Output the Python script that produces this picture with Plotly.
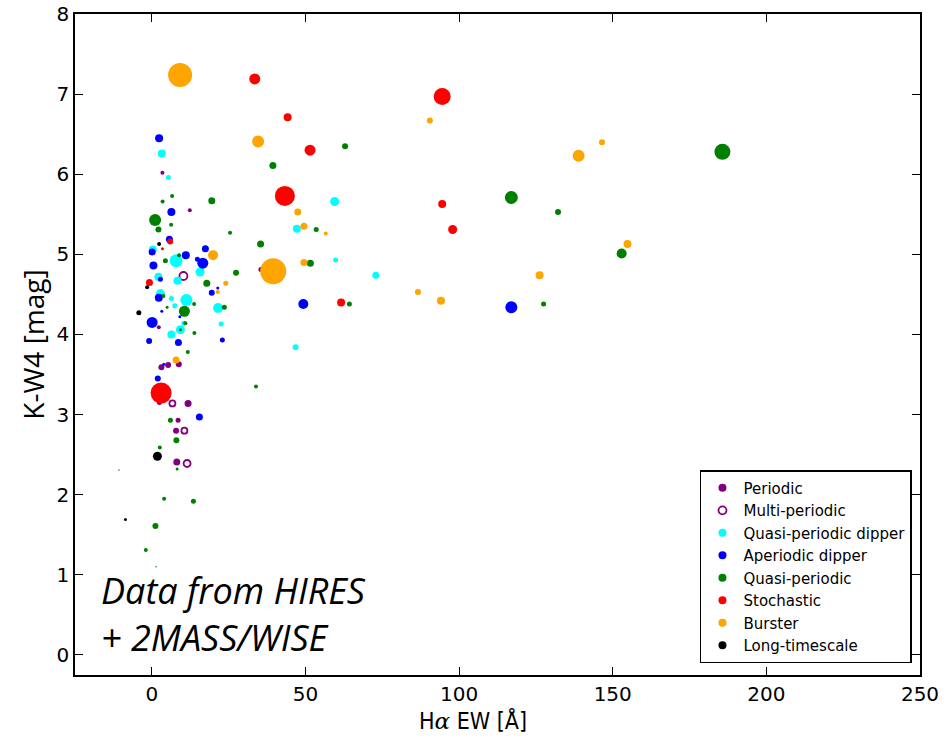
import plotly.graph_objects as go

# H-alpha equivalent width [Angstrom], K-W4 colour [mag] and marker size per variability class
periodic_x = [3.45, 12.36, 2.28, 3.12, 5.30, 8.78, 2.47, 11.80, 8.55, 7.90, 8.13, 35.5]
periodic_y = [6.02, 5.55, 4.09, 3.59, 3.62, 3.63, 3.15, 3.14, 2.93, 2.80, 2.41, 4.81]
periodic_s = [4, 4, 4, 6, 6, 6, 5, 7, 5, 6, 7, 5]

multi_x = [10.28, 6.70, 10.60, 11.48]
multi_y = [4.73, 3.14, 2.80, 2.39]
multi_s = [8, 6, 6, 7]

qpd_x = [3.25, 5.40, 0.33, 7.90, 2.15, 15.71, 8.33, 2.80, 6.37, 11.25, 7.48, 21.56, 10.41,
         9.30, 6.37, 22.54, 59.5, 47.2, 59.8, 72.9, 46.8]
qpd_y = [6.26, 5.96, 5.06, 4.92, 4.72, 4.78, 4.67, 4.51, 4.45, 4.43, 4.36, 4.33, 4.14,
         4.06, 4.00, 4.13, 5.66, 5.32, 4.93, 4.74, 3.84]
qpd_s = [8, 5, 8, 13, 8, 9, 8, 9, 5, 12, 5, 10, 5, 9, 8, 5, 9, 8, 5, 7, 6]

aper_x = [2.37, 6.37, 5.72, 0.10, 11.06, 17.43, 14.83, 16.59, 0.52, 2.80, 21.46, 2.28, 19.51,
          9.11, 3.25, 0.10, -0.88, 8.65, 22.96, 3.90, 1.95, 15.48, 49.3, 117.0]
aper_y = [6.45, 5.53, 5.19, 5.03, 4.99, 5.07, 4.94, 4.89, 4.86, 4.69, 4.58, 4.46, 4.52,
          4.22, 4.29, 4.15, 3.92, 3.90, 3.93, 3.63, 3.45, 2.97, 4.38, 4.34]
aper_s = [8, 8, 7, 7, 8, 7, 5, 11, 8, 5, 3, 8, 6, 3, 3, 11, 6, 7, 5, 3, 6, 7, 10, 12]

qp_x = [6.60, 3.51, 19.51, 1.07, 2.15, 6.28, 25.46, 4.42, 8.88, 27.41, 17.89, 3.77, 4.98,
        13.76, 10.60, 23.61, 10.93, 9.30, 13.85, 11.71, 6.05, 8.00, 2.60, 8.23, 4.00, 13.53,
        1.17, -1.95, 62.9, 39.4, 53.5, 35.4, 51.6, 64.3, 33.9, 185.7, 117.0, 132.2, 127.5,
        152.9, -10.7, 1.4]
qp_y = [5.73, 5.66, 5.67, 5.43, 5.31, 5.37, 5.27, 4.92, 4.99, 4.77, 4.64, 4.48, 4.34,
        4.38, 4.29, 4.34, 4.14, 4.06, 4.02, 3.78, 2.93, 2.68, 2.59, 2.32, 1.95, 1.92,
        1.61, 1.31, 6.35, 6.11, 5.31, 5.13, 4.89, 4.38, 3.35, 6.28, 5.71, 5.53, 4.38,
        5.01, 2.31, 1.10]
qp_s = [4, 4, 7, 12, 6, 4, 4, 5, 4, 6, 7, 4, 3, 4, 11, 5, 4, 3, 4, 4, 5, 6, 4, 3, 4, 5,
        6, 4, 6, 7, 5, 7, 7, 5, 4, 16, 13, 6, 5, 10, 1.5, 1.5]

stoch_x = [5.95, 3.45, -0.78, 3.02, 33.5, 94.5, 44.2, 51.5, 43.3, 94.5, 97.9, 61.6]
stoch_y = [5.16, 5.07, 4.65, 3.27, 7.19, 6.97, 6.71, 6.30, 5.73, 5.63, 5.31, 4.40]
stoch_s = [6, 3, 7, 21, 11, 17, 8, 11, 20, 8, 9, 8]

burst_x = [19.93, 24.07, 21.46, 7.90, 9.2, 90.5, 34.6, 47.5, 49.5, 56.6, 39.5, 49.5, 86.6,
           94.1, 146.5, 138.9, 126.2, 154.8]
burst_y = [4.99, 4.64, 4.53, 3.68, 7.24, 6.67, 6.41, 5.53, 5.35, 5.26, 4.79, 4.90, 4.53,
           4.42, 6.40, 6.23, 4.74, 5.13]
burst_s = [10, 5, 4, 7, 24, 6, 12, 7, 7, 4, 26, 7, 6, 8, 6, 12, 8, 8]

long_x = [2.37, -1.53, -4.23, 1.82, -8.59]
long_y = [5.13, 4.59, 4.27, 2.48, 1.69]
long_s = [4, 4, 5, 9, 3]

classes = [
    ("Periodic", periodic_x, periodic_y, periodic_s, "#800080", False),
    ("Multi-periodic", multi_x, multi_y, multi_s, "#800080", True),
    ("Quasi-periodic dipper", qpd_x, qpd_y, qpd_s, "#00FFFF", False),
    ("Aperiodic dipper", aper_x, aper_y, aper_s, "#0000FF", False),
    ("Quasi-periodic", qp_x, qp_y, qp_s, "#008000", False),
    ("Stochastic", stoch_x, stoch_y, stoch_s, "#FF0000", False),
    ("Burster", burst_x, burst_y, burst_s, "#FFA500", False),
    ("Long-timescale", long_x, long_y, long_s, "#000000", False),
]


def marker_style(col, hollow, size):
    if hollow:
        return dict(symbol="circle-open", size=size, color=col, opacity=1,
                    line=dict(color=col, width=1.8))
    return dict(symbol="circle", size=size, color=col, opacity=1, line=dict(width=0))


fig = go.Figure()

for name, xs, ys, ss, col, hollow in classes:
    fig.add_trace(go.Scatter(x=xs, y=ys, mode="markers", marker=marker_style(col, hollow, ss),
                             name=name, legendgroup=name, showlegend=False,
                             hoverinfo="x+y+name"))

# legend entries with a fixed marker size
for name, xs, ys, ss, col, hollow in classes:
    fig.add_trace(go.Scatter(x=[None], y=[None], mode="markers",
                             marker=marker_style(col, hollow, 8),
                             name=name, legendgroup=name, showlegend=True))

axis_common = dict(
    showline=True, linecolor="black", linewidth=1.5, mirror="ticks",
    ticks="inside", ticklen=8, tickwidth=1, tickcolor="black",
    showgrid=False, zeroline=False, automargin=False,
    tickfont=dict(family="DejaVu Sans", size=20, color="black"),
)

fig.update_layout(
    width=951, height=743,
    margin=dict(l=75, r=31, t=14, b=68),
    paper_bgcolor="white", plot_bgcolor="white",
    xaxis=dict(range=[-25, 250], tickvals=[0, 50, 100, 150, 200, 250], **axis_common),
    yaxis=dict(range=[-0.25, 8], tickvals=[0, 1, 2, 3, 4, 5, 6, 7, 8],
               title=dict(text="K-W4 [mag]",
                          font=dict(family="Open Sans", size=28, color="black"), standoff=4),
               **axis_common),
    legend=dict(x=0.9905, y=0.018, xanchor="right", yanchor="bottom",
                bgcolor="white", bordercolor="black", borderwidth=1.5,
                font=dict(family="DejaVu Sans", size=15, color="black"),
                itemwidth=32, tracegroupgap=0,
                itemclick=False, itemdoubleclick=False),
    showlegend=True,
    annotations=[
        dict(text="H<span style='font-family:DejaVu Serif;font-style:italic'>α</span> EW [Å]",
             xref="paper", yref="paper", x=0.4715, y=(675 - 720) / 661,
             xanchor="center", yanchor="middle", showarrow=False,
             font=dict(family="DejaVu Sans Condensed, Liberation Sans Narrow, DejaVu Sans",
                       size=23, color="black")),
        dict(text="<i>Data from HIRES<br>+ 2MASS/WISE</i>", xref="paper", yref="paper",
             x=(99 - 74.8) / 845.2, y=(675 - 614) / 661, xanchor="left", yanchor="middle",
             align="left", showarrow=False,
             font=dict(family="Open Sans", size=36, color="black")),
    ],
)

fig.write_html("out.html")
